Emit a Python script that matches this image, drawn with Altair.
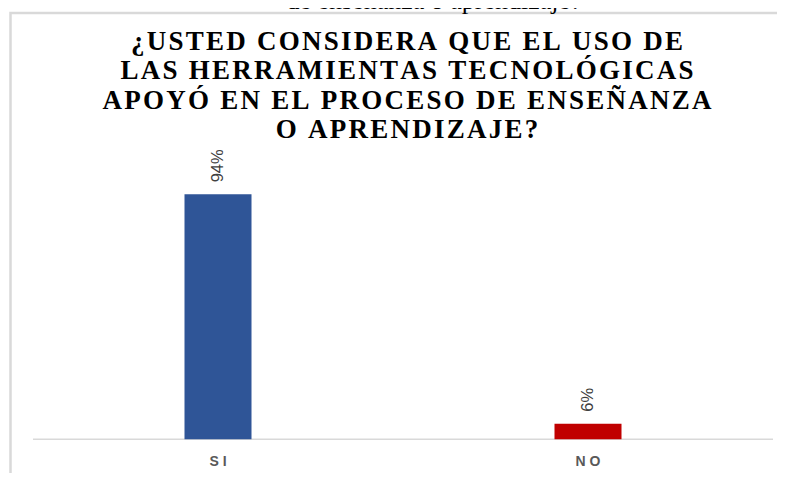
import altair as alt
import pandas as pd

# ---- data ----
categories = ["SI", "NO"]
values = [94, 6]
bar_colors = ["#2F5597", "#C00000"]
value_labels = ["94%", "6%"]
axis_labels = ["S I", "N O"]
title_lines = [
    "¿USTED CONSIDERA QUE EL USO DE",
    "LAS HERRAMIENTAS TECNOLÓGICAS",
    "APOYÓ EN EL PROCESO DE ENSEÑANZA",
    "O APRENDIZAJE?",
]
top_text = "de enseñanza o aprendizaje?"

df = pd.DataFrame({
    "cat": categories,
    "val": values,
    "color": bar_colors,
    "label": value_labels,
    "axlab": axis_labels,
})

W, H = 769, 465
BASE = 431.3
TOP100 = BASE - 260.6

xs = alt.Scale(domain=categories, range=[25, 765], paddingInner=0, paddingOuter=0)
ys = alt.Scale(domain=[0, 100], range=[BASE, TOP100])

base = alt.Chart(df)
one = alt.Chart(alt.Data(values=[{}]))

border = one.mark_rect(fillOpacity=0, stroke="#d9d9d9", strokeWidth=2.5).encode(
    x=alt.value(2.5), x2=alt.value(W + 50), y=alt.value(5), y2=alt.value(H + 50)
)

top = one.mark_text(
    text=top_text, font="Liberation Serif", fontSize=26, color="#000000",
    align="center", baseline="alphabetic",
).encode(x=alt.value(426), y=alt.value(1))

title = one.mark_text(
    text=["\u200a".join(l) for l in title_lines],
    font="Liberation Serif", fontSize=27, fontWeight="bold", color="#000000",
    align="center", baseline="alphabetic", lineHeight=29.3,
).encode(x=alt.value(399), y=alt.value(42))

baseline = one.mark_rule(color="#d9d9d9", strokeWidth=1.5).encode(
    x=alt.value(25), x2=alt.value(765), y=alt.value(BASE)
)

bars = base.mark_bar(width=67).encode(
    x=alt.X("cat:N", scale=xs, axis=None, sort=categories),
    y=alt.Y("val:Q", scale=ys, axis=None),
    color=alt.Color("color:N", scale=None, legend=None),
)

vlabels = base.mark_text(
    angle=270, align="left", baseline="middle", dx=12,
    font="Liberation Sans", fontSize=16.5, color="#404040",
).encode(
    x=alt.X("cat:N", scale=xs, axis=None, sort=categories),
    y=alt.Y("val:Q", scale=ys, axis=None),
    text="label:N",
)

xlabels = base.mark_text(
    baseline="middle", align="center",
    font="Liberation Sans", fontSize=14, fontWeight="bold", color="#595959",
).encode(
    x=alt.X("cat:N", scale=xs, axis=None, sort=categories),
    y=alt.value(454),
    text="axlab:N",
)

chart = alt.layer(border, top, title, baseline, bars, vlabels, xlabels).properties(
    width=W, height=H,
    autosize=alt.AutoSizeParams(type="none"),
    padding={"left": 0, "top": 0, "right": 0, "bottom": 0},
).configure_view(stroke=None)

chart.save("out.html", embed_options={"renderer": "svg", "actions": False})
